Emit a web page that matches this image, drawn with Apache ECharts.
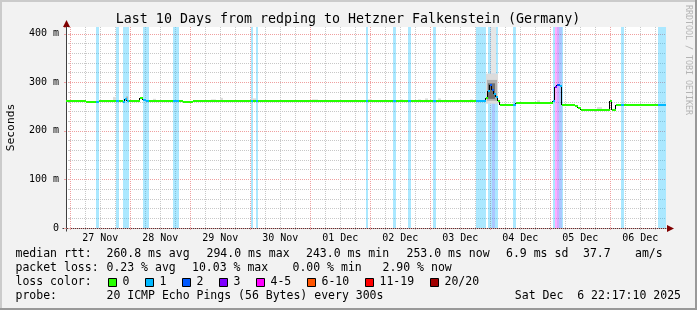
<!DOCTYPE html>
<html><head><meta charset="utf-8">
<script src="https://cdn.jsdelivr.net/npm/echarts@6/dist/echarts.min.js"></script>
<style>html,body{margin:0;padding:0;background:#f2f2f2;}#c{width:697px;height:310px;}</style>
</head><body><div id="c"></div>
<script>
// time axis: hours relative to 27 Nov 00:00 (end: Sat Dec 6 22:17:10, span 10 days)
const tStart = -1.714, tEnd = 238.286;
const yMax = 414;
const dayLabels = ['27 Nov','28 Nov','29 Nov','30 Nov','01 Dec','02 Dec','03 Dec','04 Dec','05 Dec','06 Dec'];
const lossLabels = ['0','1','2','3','4-5','6-10','11-19','20/20'];
const lossColors = ['#26ff00','#00b8ff','#0059ff','#7e00ff','#ff00ff','#ff5500','#ff0000','#a10000'];

// median rtt (ms), held from medT[i] to medT[i+1]; medL = loss colour index
const medT = [tStart,6.28,10.28,11.48,18.28,19.48,21.08,21.88,22.68,23.48,27.88,29.08,30.28,31.48,41.08,43.48,45.08,49.08,
  72.28,73.08,74.28,75.08,118.28,119.08,129.08,130.28,135.08,136.28,145.08,146.28,162.28,166.28,167.08,167.88,168.68,169.48,170.28,171.08,171.88,
  177.08,178.28,193.08,193.88,194.68,195.88,196.68,201.88,203.08,204.28,215.88,216.68,218.28,220.28,221.48,235.08];
const medV = [262,260,260,262,262,262,260,265,262,262,268,264,262,262,262,262,260,262,
  262,262,262,262,262,262,262,262,262,262,262,262,261,268,282,294,284,276,270,262,253,
  253,257,262,290,294,292,254,251,248,243,261,243,253,253,253,253];
const medL = [0,0,1,0,1,0,1,1,1,0,0,1,1,0,1,0,0,0,
  1,0,1,0,1,0,1,0,1,0,1,0,1,0,1,2,2,1,1,0,0,
  1,0,1,3,2,1,0,0,0,0,0,0,0,1,0,1];

// packet-loss background bands
const bandT0 = [10.28,18.28,21.08,29.08,41.08,72.28,74.28,118.28,129.08,135.08,145.08,162.28,167.08,168.68,169.88,177.08,193.08,193.88,194.68,195.48,196.68,220.28,235.08];
const bandT1 = [11.48,19.48,23.48,31.48,43.48,73.08,75.08,119.08,130.28,136.28,146.28,166.28,168.68,169.88,171.08,178.28,193.88,194.68,195.48,196.68,197.08,221.48,tEnd];
const bandL  = [1,1,1,1,1,1,1,1,1,1,1,1,1,2,1,1,1,4,3,2,1,1,1];

// smoke (spread of pings), ms
const smokeT0 = [17.08,22.28,33.08,56.28,59.88,72.68,96.68,119.08,131.88,139.08,141.88,147.08,159.88,166.28,168.28,166.68,167.08,186.68,210.68];
const smokeT1 = [18.28,23.08,34.28,58.28,61.08,74.28,99.08,120.68,133.08,140.28,143.08,148.28,161.08,171.08,170.28,170.68,169.88,187.88,212.68];
const smokeLo = [263,263,263,263,263,263,263,263,263,263,263,263,263,256,318,262,266,258,244];
const smokeHi = [270,271,266,265,268,267,265,265,265,265,267,267,265,318,414,305,298,263,249];
const smokeS  = [0,1,0,0,0,0,0,0,0,0,0,0,0,0,3,1,2,0,0];
const smokeShades = ['#dcdcdc','#b0b0b0','#6e6e6e','#e6e6e6'];

const rttStats = ['260.8 ms avg','294.0 ms max','243.0 ms min','253.0 ms now','6.9 ms sd','37.7','am/s'];
const lossStats = ['0.23 % avg','10.03 % max','0.00 % min','2.90 % now'];
const probeText = '20 ICMP Echo Pings (56 Bytes) every 300s';
const stampText = 'Sat Dec  6 22:17:10 2025';
const titleText = 'Last 10 Days from redping to Hetzner Falkenstein (Germany)';

const FONT = '"DejaVu Sans Mono", monospace';
const GRID_C = '#c8c8c8', MGRID_C = '#f0a0a0';
function rgba(hex, a){const n=parseInt(hex.slice(1),16);return 'rgba('+(n>>16)+','+((n>>8)&255)+','+(n&255)+','+a+')';}

const gridHours = [];
for (let h = 0; h <= tEnd; h += 6) gridHours.push([h, 0]);

const medSegs = medT.map((t,i)=>[t, i+1<medT.length?medT[i+1]:tEnd, medV[i], medL[i], i>0?medV[i-1]:medV[i]]);
const bands = bandT0.map((t,i)=>[t, bandT1[i], bandL[i]]);
const smoke = smokeT0.map((t,i)=>[t, smokeT1[i], smokeLo[i], smokeHi[i], smokeS[i]]);
const labelData = dayLabels.map((s,i)=>[i*24+12, 0]);

const chart = echarts.init(document.getElementById('c'));
chart.setOption({
  animation: false,
  backgroundColor: '#f2f2f2',
  grid: {left: 66, top: 27, width: 600, height: 201, show: true, backgroundColor: '#ffffff', borderWidth: 0,
    containLabel: false, outerBoundsMode: 'none'},
  xAxis: {type: 'value', min: tStart, max: tEnd,
    axisLine: {show: true, onZero: false, lineStyle: {color: '#404040', width: 1}},
    axisTick: {show: false}, axisLabel: {show: false}, splitLine: {show: false}},
  yAxis: [
    {type: 'value', position: 'left', min: 0, max: yMax, interval: 20,
      axisLine: {show: false}, axisLabel: {show: false},
      axisTick: {show: true, length: 2, lineStyle: {color: GRID_C}},
      splitLine: {show: true, showMaxLine: false, lineStyle: {color: GRID_C, type: [1,1], width: 1}}},
    {type: 'value', position: 'left', offset: 0, min: 0, max: yMax, interval: 100, z: 1,
      axisLine: {show: true, lineStyle: {color: '#404040', width: 1}},
      axisTick: {show: true, length: 2, lineStyle: {color: MGRID_C}},
      axisLabel: {show: true, margin: 7, color: '#000', fontFamily: FONT, fontSize: 10,
        formatter: v => (v % 100 !== 0) ? '' : (v === 0 ? '0' : v + ' m')},
      splitLine: {show: true, showMaxLine: false, lineStyle: {color: MGRID_C, type: [1,1], width: 1}}}
  ],
  series: [
    {type: 'custom', name: 'vgrid', z: 1, silent: true, clip: false, data: gridHours, encode: {x: 0, y: 1},
      renderItem: (params, api) => {
        const h = api.value(0);
        const top = api.coord([h, yMax]), bot = api.coord([h, 0]);
        const x = Math.round(top[0]) + 0.5;
        return {type: 'line', shape: {x1: x, y1: top[1], x2: x, y2: bot[1] + 3},
          style: {stroke: (Math.round(h) % 24 === 0) ? MGRID_C : GRID_C, lineWidth: 1, lineDash: [1,1]}};
      }},
    {type: 'custom', name: 'loss', z: 2, silent: true, data: bands, encode: {x: [0,1]},
      renderItem: (params, api) => {
        const p0 = api.coord([api.value(0), yMax]), p1 = api.coord([api.value(1), 0]);
        const x0 = Math.round(p0[0]), x1 = Math.round(p1[0]);
        return {type: 'rect', shape: {x: x0, y: p0[1], width: Math.max(1, x1 - x0), height: p1[1] - p0[1]},
          style: {fill: rgba(lossColors[api.value(2)], 0.33)}};
      }},
    {type: 'custom', name: 'smoke', z: 3, silent: true, data: smoke, encode: {x: [0,1], y: [2,3]},
      renderItem: (params, api) => {
        const p0 = api.coord([api.value(0), api.value(3)]), p1 = api.coord([api.value(1), api.value(2)]);
        const x0 = Math.round(p0[0]), x1 = Math.round(p1[0]);
        return {type: 'rect', shape: {x: x0, y: p0[1], width: Math.max(1, x1 - x0), height: p1[1] - p0[1]},
          style: {fill: smokeShades[api.value(4)]}};
      }},
    {type: 'custom', name: 'medianSteps', z: 4, silent: true, data: medSegs, encode: {x: 0, y: [2,4]},
      renderItem: (params, api) => {
        if (params.dataIndex === 0) return null;
        const p0 = api.coord([api.value(0), api.value(4)]), p1 = api.coord([api.value(0), api.value(2)]);
        const x = Math.round(p0[0]) - 0.5;
        return {type: 'line', shape: {x1: x, y1: Math.round(p0[1]), x2: x, y2: Math.round(p1[1])},
          style: {stroke: '#000', lineWidth: 1}};
      }},
    {type: 'custom', name: 'median', z: 5, silent: true, data: medSegs, encode: {x: [0,1], y: 2},
      renderItem: (params, api) => {
        const p0 = api.coord([api.value(0), api.value(2)]), p1 = api.coord([api.value(1), api.value(2)]);
        const y = Math.round(p0[1]);
        return {type: 'line', shape: {x1: Math.round(p0[0]), y1: y, x2: Math.round(p1[0]), y2: y},
          style: {stroke: lossColors[api.value(3)], lineWidth: 2}};
      }},
    {type: 'custom', name: 'days', z: 5, silent: true, clip: false, data: labelData, encode: {x: 0, y: 1},
      renderItem: (params, api) => {
        const p = api.coord([api.value(0), 0]);
        return {type: 'text', x: p[0], y: p[1] + 10,
          style: {text: dayLabels[params.dataIndex], textAlign: 'center', textVerticalAlign: 'middle',
            font: '10px ' + FONT, fill: '#000'}};
      }}
  ]
});

const o = chart.convertToPixel({xAxisIndex: 0, yAxisIndex: 0}, [tEnd, 0]);
const tl = chart.convertToPixel({xAxisIndex: 0, yAxisIndex: 0}, [tStart, yMax]);
const ax = Math.round(tl[0]) + 0.5, ay = Math.round(o[1]) + 0.5;

function txt(s, x, y, size, align, extra) {
  return Object.assign({type: 'text', x: x, y: y, silent: true,
    style: {text: s, font: size + 'px ' + FONT, fill: '#000', textAlign: align || 'left', textVerticalAlign: 'middle'}}, extra || {});
}
const g = [];
// 3D border
g.push({type: 'rect', shape: {x: 0, y: 0, width: 697, height: 2}, style: {fill: '#cbcbcb'}, silent: true});
g.push({type: 'rect', shape: {x: 0, y: 0, width: 2, height: 310}, style: {fill: '#cbcbcb'}, silent: true});
g.push({type: 'rect', shape: {x: 0, y: 308, width: 697, height: 2}, style: {fill: '#999999'}, silent: true});
g.push({type: 'rect', shape: {x: 695, y: 0, width: 2, height: 310}, style: {fill: '#999999'}, silent: true});
// axis extensions and arrows
g.push({type: 'line', shape: {x1: ax - 4, y1: ay, x2: ax, y2: ay}, style: {stroke: '#404040', lineWidth: 1}, silent: true});
g.push({type: 'line', shape: {x1: ax, y1: ay, x2: ax, y2: ay + 3}, style: {stroke: '#404040', lineWidth: 1}, silent: true});
g.push({type: 'polygon', shape: {points: [[o[0] + 1, ay - 3.5], [o[0] + 8, ay], [o[0] + 1, ay + 3.5]]}, style: {fill: '#800000'}, silent: true});
g.push({type: 'polygon', shape: {points: [[ax - 3.5, tl[1]], [ax, tl[1] - 7], [ax + 3.5, tl[1]]]}, style: {fill: '#800000'}, silent: true});
// title and side texts
g.push(txt(titleText, 348, 19.5, 13.3, 'center'));
g.push(txt('Seconds', 11, 127.5, 11.3, 'center', {rotation: Math.PI / 2}));
g.push(txt('RRDTOOL / TOBI OETIKER', 688, 60, 8.3, 'center', {rotation: -Math.PI / 2, style: {text: 'RRDTOOL / TOBI OETIKER', font: '8.3px ' + FONT, fill: '#b4b4b4', textAlign: 'center', textVerticalAlign: 'middle'}}));
// legend
const L1 = 254.5, L2 = 268.5, L3 = 282.5, L4 = 296.5, LF = 11.5;
g.push(txt('median rtt:', 15.5, L1, LF));
const rttX = [106.5, 206.5, 306, 406.5, 506, 583, 635];
rttStats.forEach((s, i) => g.push(txt(s, rttX[i], L1, LF)));
g.push(txt('packet loss:', 15.5, L2, LF));
const lossX = [106.5, 192, 292.5, 382.5];
lossStats.forEach((s, i) => g.push(txt(s, lossX[i], L2, LF)));
g.push(txt('loss color:', 15.5, L3, LF));
const boxX = [108, 145, 182, 219, 256, 307, 365, 430];
const boxLabelX = [122.5, 159.5, 196.5, 233.5, 270.5, 321.5, 379.5, 444.5];
lossLabels.forEach((s, i) => {
  g.push({type: 'rect', shape: {x: boxX[i] + 0.5, y: 278.5, width: 8, height: 8}, style: {fill: lossColors[i], stroke: '#000', lineWidth: 1}, silent: true});
  g.push(txt(s, boxLabelX[i], L3, LF));
});
g.push(txt('probe:', 15.5, L4, LF));
g.push(txt(probeText, 106.5, L4, LF));
g.push(txt(stampText, 681, L4, LF, 'right'));
chart.setOption({graphic: {elements: g}});
</script></body></html>
